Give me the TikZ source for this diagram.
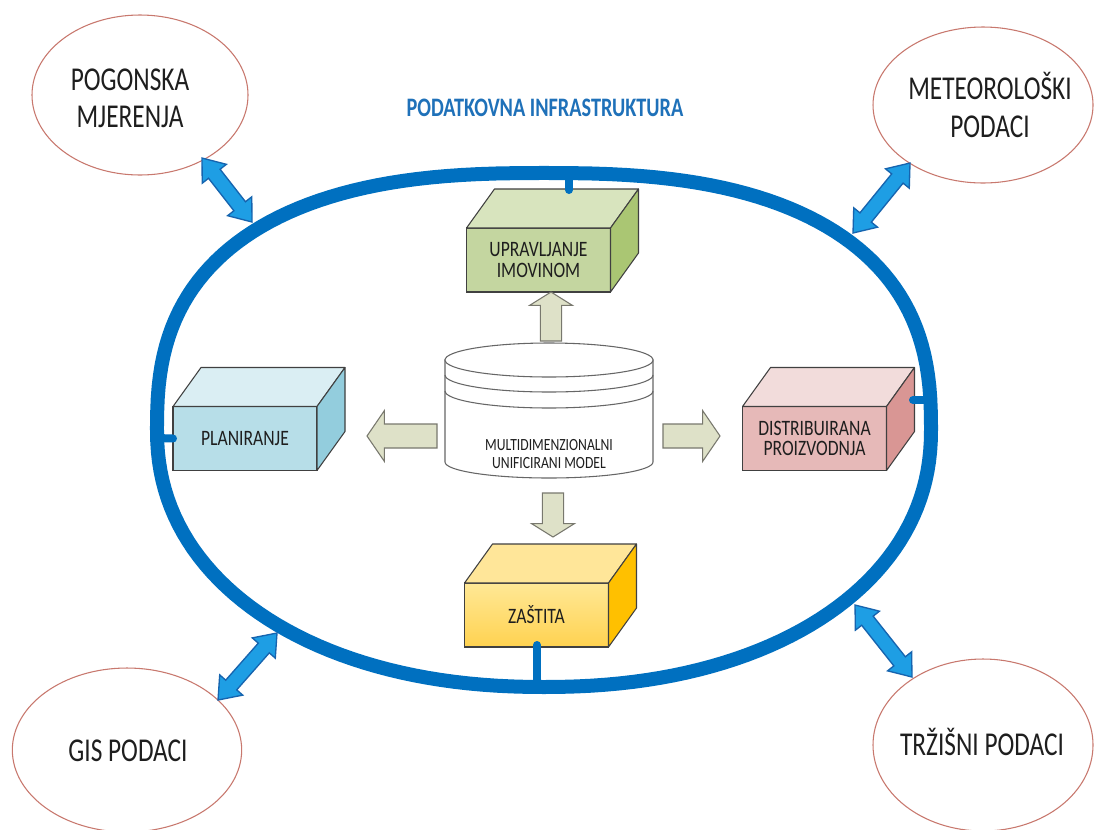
\documentclass[tikz,border=0pt]{standalone}
\usepackage{fontspec}
\setmainfont{Carlito}
\newfontfamily\labfont[FakeStretch=0.76]{Carlito}
\newfontfamily\boxfont[FakeStretch=0.8]{Carlito}
\usetikzlibrary{calc,shapes.geometric}
\definecolor{ringblue}{RGB}{0,112,192}
\definecolor{titleblue}{RGB}{31,113,185}
\definecolor{arrlight}{RGB}{30,158,228}
\definecolor{arrdark}{RGB}{22,100,175}
\definecolor{ellborder}{RGB}{200,120,110}
\definecolor{beige}{RGB}{222,225,200}
\definecolor{beigeedge}{RGB}{120,120,110}
\definecolor{gfront}{RGB}{196,214,160}
\definecolor{gtop}{RGB}{216,228,190}
\definecolor{gside}{RGB}{170,198,115}
\definecolor{bfront}{RGB}{183,222,232}
\definecolor{btop}{RGB}{218,238,243}
\definecolor{bside}{RGB}{147,205,221}
\definecolor{pfront}{RGB}{230,185,184}
\definecolor{ptop}{RGB}{242,220,219}
\definecolor{pside}{RGB}{217,150,148}
\definecolor{yfront}{RGB}{255,217,102}
\definecolor{yfronttop}{RGB}{255,232,150}
\definecolor{yfrontbot}{RGB}{255,210,80}
\definecolor{ytop}{RGB}{255,230,153}
\definecolor{yside}{RGB}{255,192,0}
\definecolor{edgegray}{RGB}{64,64,64}
\definecolor{txtdark}{RGB}{30,30,30}
\newcommand\dblarrow[2]{%
  \draw[dblarr] (#1) -- ($(#1)!15pt!(#2)!11.5pt!90:(#2)$) -- ($(#1)!15pt!(#2)!5.5pt!90:(#2)$)
   -- ($(#2)!15pt!(#1)!5.5pt!-90:(#1)$) -- ($(#2)!15pt!(#1)!11.5pt!-90:(#1)$) -- (#2)
   -- ($(#2)!15pt!(#1)!11.5pt!90:(#1)$) -- ($(#2)!15pt!(#1)!5.5pt!90:(#1)$)
   -- ($(#1)!15pt!(#2)!5.5pt!-90:(#2)$) -- ($(#1)!15pt!(#2)!11.5pt!-90:(#2)$) -- cycle;}
\newcommand\blockarrow[5]{%
  \draw[blockarr] ($(#1)!#3!90:(#2)$) -- ($(#2)!#5!(#1)!#3!-90:(#1)$) -- ($(#2)!#5!(#1)!#4!-90:(#1)$)
   -- (#2) -- ($(#2)!#5!(#1)!#4!90:(#1)$) -- ($(#2)!#5!(#1)!#3!90:(#1)$) -- ($(#1)!#3!-90:(#2)$) -- cycle;}
\newcommand\cuboid[7]{%
  \node[boxfront, fill=#4] (#1) at (#2,#3) {#7};
  \draw[boxedge, fill=#5] (#1.north west) -- ++(28,39) -- ++(144,0) -- (#1.north east) -- cycle;
  \draw[boxedge, fill=#6] (#1.north east) -- ++(28,39) -- ++(0,-64) -- (#1.south east) -- cycle;}
\begin{document}
\begin{tikzpicture}[x=0.75pt,y=0.75pt,
  ring/.style={draw=ringblue, line width=10.5pt, line join=round},
  stub/.style={draw=ringblue, line width=6pt, line cap=round},
  outer/.style={ellipse, draw=ellborder, line width=0.8pt, fill=white, inner sep=0pt},
  outertext/.style={align=center, text=txtdark, inner sep=0pt, font=\labfont\fontsize{25}{28}\selectfont},
  dblarr/.style={draw=arrdark, fill=arrlight, line width=1pt, line join=miter},
  blockarr/.style={draw=beigeedge, fill=beige, line width=0.8pt, line join=miter},
  boxfront/.style={draw=edgegray, line width=0.8pt, minimum width=108pt, minimum height=48pt,
     inner sep=0pt, outer sep=0pt, align=center, text=txtdark,
     font=\boxfont\fontsize{16.5}{15.5}\selectfont},
  boxedge/.style={draw=edgegray, line width=0.8pt, line join=round},
  cyl/.style={draw=edgegray!80, line width=0.8pt, fill=white},
  title/.style={text=titleblue, font=\labfont\bfseries\fontsize{20}{22}\selectfont}]
\useasboundingbox (0,0) rectangle (1094,-829);
\fill[white] (0,0) rectangle (1094,-829);
% ring (upper half flatter than lower half)
\draw[ring]
  plot[domain=0:180, samples=91, variable=\t]
  ({544+387*cos(\t)*(abs(cos(\t))+0.0001)^(-0.216)}, {-430+257*sin(\t)*(abs(sin(\t))+0.0001)^(-0.216)})
  -- plot[domain=180:360, samples=91, variable=\t]
  ({544+387*cos(\t)*(abs(cos(\t))+0.0001)^(-0.07)}, {-430+257*sin(\t)*(abs(sin(\t))+0.0001)^(-0.07)})
  -- cycle;
\coordinate (ringT) at (569,-174);
\coordinate (ringL) at (157,-438);
\coordinate (ringR) at (931,-400);
\coordinate (ringB) at (537,-687);
% title
\node[title] (title) at (545,-108) {PODATKOVNA INFRASTRUKTURA};
% outer ellipses
\node[outer, minimum width=162pt, minimum height=120pt] (pog) at (140,-95) {};
\node[outertext] (pogtxt) at (130,-98) {POGONSKA\\MJERENJA};
\node[outer, minimum width=165pt, minimum height=117pt] (met) at (983,-105) {};
\node[outertext] (mettxt) at (990,-105) {METEOROLOŠKI\\PODACI};
\node[outer, minimum width=172pt, minimum height=123pt] (gis) at (127,-750) {};
\node[outertext] (gistxt) at (128,-751) {GIS PODACI};
\node[outer, minimum width=165pt, minimum height=129pt] (trz) at (983,-745) {};
\node[outertext] (trztxt) at (982,-742) {TRŽIŠNI PODACI};
% double arrows
\coordinate (a1s) at (202,-158); \coordinate (a1e) at (252,-222);
\coordinate (a2s) at (910,-163); \coordinate (a2e) at (853,-233);
\coordinate (a3s) at (218,-700); \coordinate (a3e) at (277,-633);
\coordinate (a4s) at (912,-677); \coordinate (a4e) at (855,-605);
\dblarrow{a1s}{a1e}
\dblarrow{a2s}{a2e}
\dblarrow{a3s}{a3e}
\dblarrow{a4s}{a4e}
% cylinder
\draw[cyl] (445,-360) -- (445,-462) arc[start angle=180, end angle=360, x radius=104, y radius=16] -- (653,-360) -- cycle;
\draw[cyl] (549,-360) ellipse[x radius=104, y radius=17];
\draw[cyl, fill=none] (445,-375) arc[start angle=180, end angle=360, x radius=104, y radius=17];
\draw[cyl, fill=none] (445,-391) arc[start angle=180, end angle=360, x radius=104, y radius=17];
\node[align=center, text=txtdark, font=\boxfont\fontsize{12.8}{13.5}\selectfont] (cyl) at (549,-454)
  {MULTIDIMENZIONALNI\\UNIFICIRANI MODEL};
% boxes
\cuboid{upr}{538.5}{-260}{gfront}{gtop}{gside}{UPRAVLJANJE\\IMOVINOM}
\cuboid{plan}{245}{-438.5}{bfront}{btop}{bside}{PLANIRANJE}
\cuboid{dist}{814.5}{-438.5}{pfront}{ptop}{pside}{DISTRIBUIRANA\\PROIZVODNJA}
\cuboid{zas}{536.5}{-615}{yfront, top color=yfronttop, bottom color=yfrontbot}{ytop}{yside}{ZAŠTITA}
% block arrows
\coordinate (uA) at (551,-341); \coordinate (uB) at (551,-292);
\coordinate (lA) at (437,-436); \coordinate (lB) at (367,-436);
\coordinate (rA) at (663,-436); \coordinate (rB) at (720,-436);
\coordinate (dA) at (553,-493); \coordinate (dB) at (553,-537);
\blockarrow{uA}{uB}{8pt}{16pt}{10pt}
\blockarrow{lA}{lB}{9pt}{19pt}{13pt}
\blockarrow{rA}{rB}{9pt}{19pt}{13pt}
\blockarrow{dA}{dB}{8pt}{16pt}{10pt}
% stubs
\coordinate (uprTop) at (569,-190);
\coordinate (distSide) at (913,-400);
\coordinate (zasBot) at (537,-645);
\draw[stub] (ringT) -- (uprTop);
\draw[stub] (ringL) -- (plan.west);
\draw[stub] (distSide) -- (ringR);
\draw[stub] (zasBot) -- (ringB);
\end{tikzpicture}
\end{document}
